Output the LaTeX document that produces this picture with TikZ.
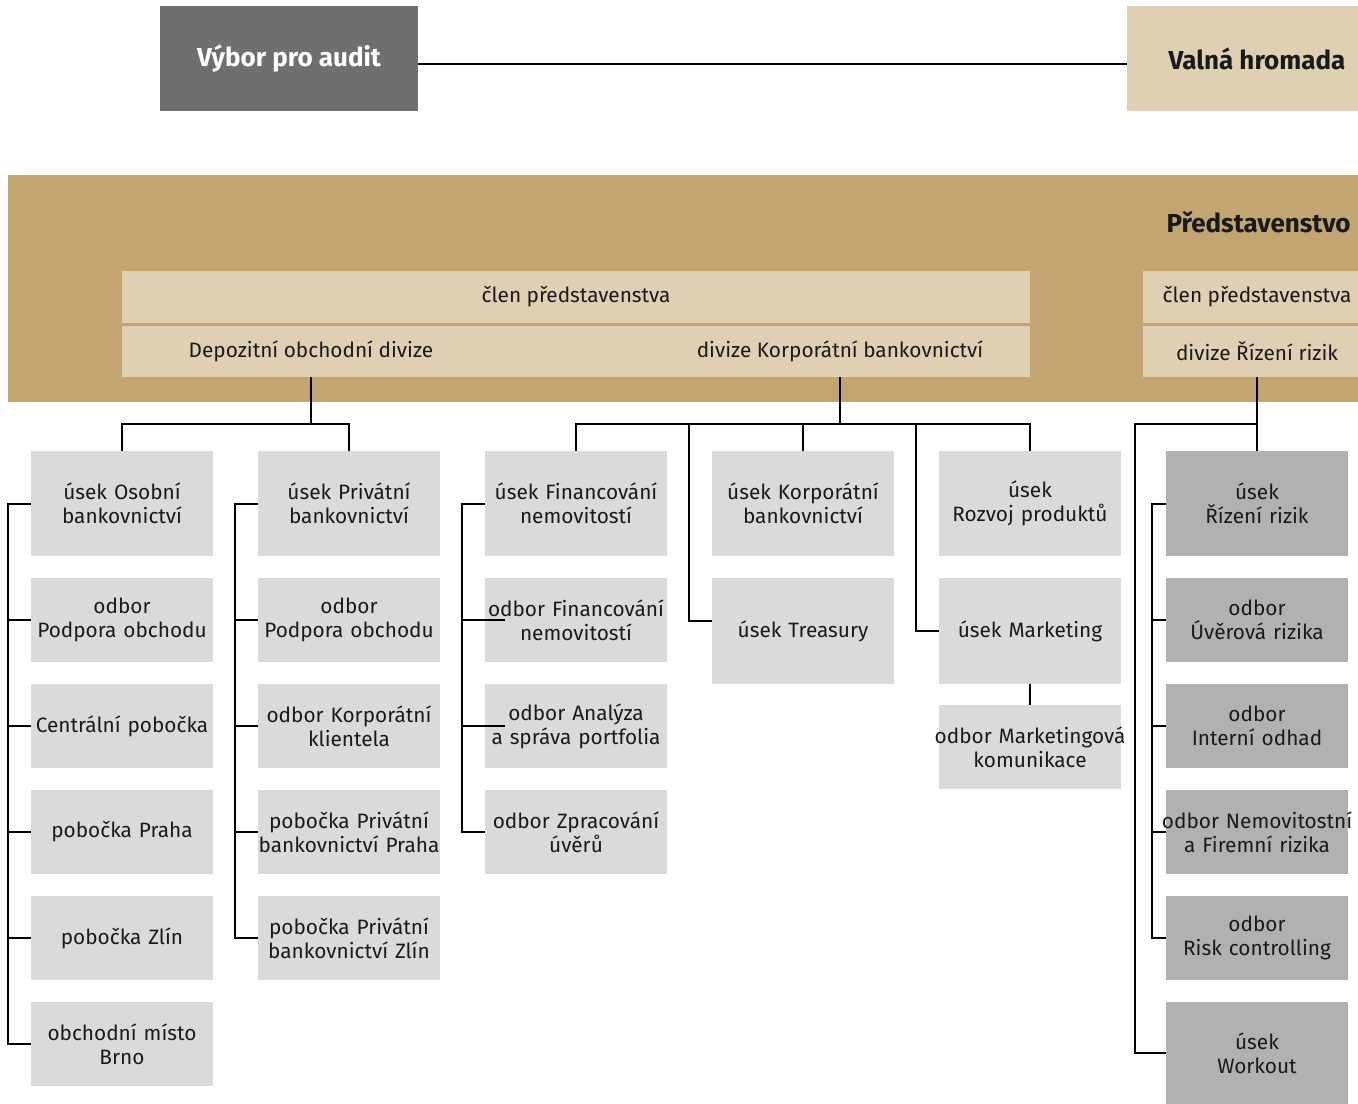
\documentclass[tikz,border=0pt]{standalone}
\usepackage{fontspec}
\setmainfont{Fira Sans}
\usetikzlibrary{positioning}

\definecolor{boxgray}{HTML}{DADADA}
\definecolor{riskgray}{HTML}{B1B1B1}
\definecolor{boardtan}{HTML}{C3A572}
\definecolor{lightbeige}{HTML}{E0D0B3}
\definecolor{auditgray}{HTML}{6F6F6F}
\definecolor{inkblack}{HTML}{1A1A1A}

\tikzset{
  unit/.style={fill=boxgray, minimum width=91pt, text width=91pt, minimum height=42pt, inner sep=0pt, outer sep=0pt,
    align=center, text=inkblack, font=\fontsize{10.4}{12}\selectfont},
  tall/.style={minimum height=52.5pt},
  risk/.style={fill=riskgray},
  band/.style={fill=lightbeige, inner sep=0pt, outer sep=0pt, text=inkblack, font=\fontsize{10.4}{12}\selectfont},
  head/.style={inner sep=0pt, outer sep=0pt, minimum height=52.5pt, font=\fontsize{13}{15}\selectfont\bfseries},
  link/.style={line width=1pt, draw=black},
}

\begin{document}
\begin{tikzpicture}[x=0.5pt, y=-0.5pt]
\useasboundingbox (0,0) rectangle (1358,1103);

% top: audit committee and general meeting
\node[head, fill=auditgray, text=white, minimum width=129pt] (vybor) at (289,58.5) {Výbor pro audit};
\node[head, fill=lightbeige, text=inkblack, minimum width=130pt] (valna) at (1257,58.5) {Valná hromada};
\draw[link] ([yshift=-2.75pt]vybor.east) -- ([yshift=-2.75pt]valna.west);

% board
\node[fill=boardtan, minimum width=681pt, minimum height=113.5pt, inner sep=0pt] (board) at (689,288.5) {};
\node[anchor=east, inner sep=0pt, text=inkblack, font=\fontsize{13}{15}\selectfont\bfseries] (predst) at (1351,222) {Představenstvo};
\node[band, minimum width=454pt, minimum height=26pt] (clen) at (576,297) {člen představenstva};
\node[band, minimum width=454pt, minimum height=25.5pt] (divrow) at (576,351.5) {};
\node[inner sep=0pt, minimum height=25.5pt, text=inkblack, font=\fontsize{10.4}{12}\selectfont] (depo) at (311,351.5) {Depozitní obchodní divize};
\node[inner sep=0pt, minimum height=25.5pt, text=inkblack, font=\fontsize{10.4}{12}\selectfont] (korp) at (840,351.5) {divize Korporátní bankovnictví};
\node[band, minimum width=114pt, minimum height=26pt] (clenriz) at (1257,297) {člen představenstva};
\node[band, minimum width=114pt, minimum height=25.5pt] (divriz) at (1257,351.5) {divize Řízení rizik};

% depozitni divize
\node[unit, tall] (usekos) at (122,503.5) {úsek Osobní\\bankovnictví};
\node[unit, below=11pt of usekos] (podpora1) {odbor\\Podpora obchodu};
\node[unit, below=11pt of podpora1] (centralni) {Centrální pobočka};
\node[unit, below=11pt of centralni] (praha) {pobočka Praha};
\node[unit, below=11pt of praha] (zlin) {pobočka Zlín};
\node[unit, below=11pt of zlin] (brno) {obchodní místo\\Brno};

\node[unit, tall] (usekpriv) at (349,503.5) {úsek Privátní\\bankovnictví};
\node[unit, below=11pt of usekpriv] (podpora2) {odbor\\Podpora obchodu};
\node[unit, below=11pt of podpora2] (korpklient) {odbor Korporátní\\klientela};
\node[unit, below=11pt of korpklient] (pobpraha) {pobočka Privátní\\bankovnictví Praha};
\node[unit, below=11pt of pobpraha] (pobzlin) {pobočka Privátní\\bankovnictví Zlín};

% korporatni divize
\node[unit, tall] (usekfin) at (576,503.5) {úsek Financování\\nemovitostí};
\node[unit, below=11pt of usekfin] (odbfin) {odbor Financování\\nemovitostí};
\node[unit, below=11pt of odbfin] (analyza) {odbor Analýza\\a správa portfolia};
\node[unit, below=11pt of analyza] (zpracovani) {odbor Zpracování\\úvěrů};

\node[unit, tall] (usekkorp) at (803,503.5) {úsek Korporátní\\bankovnictví};
\node[unit, minimum height=53pt, below=11pt of usekkorp] (treasury) {úsek Treasury};

\node[unit, tall] (rozvoj) at (1030,503.5) {úsek\\Rozvoj produktů};
\node[unit, minimum height=53pt, below=11pt of rozvoj] (marketing) {úsek Marketing};
\node[unit, below=10.5pt of marketing] (komunikace) {\makebox[91pt]{odbor Marketingová}\\komunikace};

% divize rizeni rizik
\node[unit, tall, risk] (usekriz) at (1257,503.5) {úsek\\Řízení rizik};
\node[unit, risk, below=11pt of usekriz] (uverova) {odbor\\Úvěrová rizika};
\node[unit, risk, below=11pt of uverova] (odhad) {odbor\\Interní odhad};
\node[unit, risk, below=11pt of odhad] (nemovit) {\makebox[91pt]{odbor Nemovitostní}\\a Firemní rizika};
\node[unit, risk, below=11pt of nemovit] (riskctrl) {odbor\\Risk controlling};
\node[unit, risk, minimum height=51pt, below=11pt of riskctrl] (workout) {úsek\\Workout};

% connectors
\coordinate (kbus) at (840,424);
\coordinate (rbus) at (1257,424);
\draw[link] (depo.south) -- ++(0,47);
\draw[link] (usekos.north) -- ++(0,-27) -| (usekpriv.north);
\draw[link] (korp.south) -- (kbus);
\draw[link] (usekfin.north) -- ++(0,-27) -| (rozvoj.north);
\draw[link] (usekkorp.north) -- ++(0,-27);
\draw[link] ([yshift=5pt]treasury.west) -- ++(-23,0) coordinate (tb) -- (tb |- kbus);
\draw[link] (marketing.west) -- ++(-23,0) coordinate (mb) -- (mb |- kbus);
\draw[link] (marketing.south) -- (komunikace.north);
\draw[link] (divriz.south) -- (usekriz.north);
\draw[link] (workout.west) -- ++(-31,0) |- (rbus);

\draw[link] (usekos.west) -- ++(-23,0) |- (brno.west);
\foreach \n in {podpora1, centralni, praha, zlin}
  \draw[link] (\n.west) -- ++(-23,0);
\draw[link] (usekpriv.west) -- ++(-23,0) |- (pobzlin.west);
\foreach \n in {podpora2, korpklient, pobpraha}
  \draw[link] (\n.west) -- ++(-23,0);
\draw[link] (usekfin.west) -- ++(-23,0) |- (zpracovani.west);
\foreach \n in {odbfin, analyza}
  \draw[link] (\n.west) ++(20,0) -- ++(-43,0);
\draw[link] (usekriz.west) -- ++(-14,0) |- (riskctrl.west);
\foreach \n in {uverova, odhad, nemovit}
  \draw[link] (\n.west) -- ++(-14,0);
\end{tikzpicture}
\end{document}
